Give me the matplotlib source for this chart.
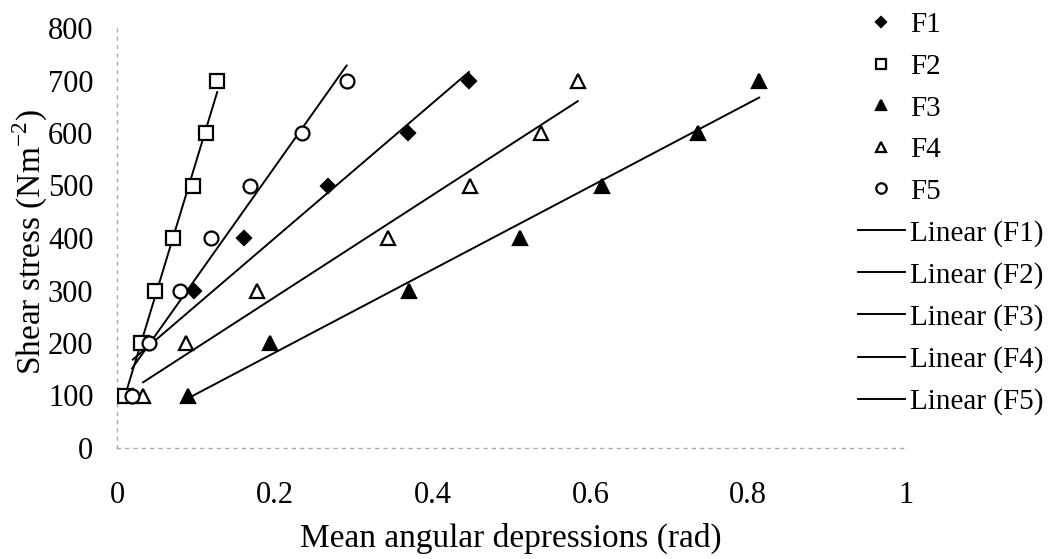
import numpy as np
import matplotlib
matplotlib.use("Agg")
import matplotlib.pyplot as plt
from matplotlib.lines import Line2D

plt.rcParams['font.family'] = ['Liberation Serif', 'DejaVu Serif']

stress = [100, 200, 300, 400, 500, 600, 700]
f1 = [0.020, 0.040, 0.097, 0.161, 0.268, 0.369, 0.446]
f2 = [0.010, 0.031, 0.048, 0.071, 0.096, 0.113, 0.127]
f3 = [0.090, 0.194, 0.370, 0.511, 0.615, 0.737, 0.814]
f4 = [0.033, 0.088, 0.177, 0.344, 0.447, 0.538, 0.584]
f5 = [0.019, 0.041, 0.080, 0.119, 0.169, 0.234, 0.291]

names = ['F1', 'F2', 'F3', 'F4', 'F5']
series = [f1, f2, f3, f4, f5]
markers = ['D', 's', '^', '^', 'o']
filled = [True, False, True, False, False]
msize = [7, 10, 10, 10, 10]

fig = plt.figure(figsize=(10.55, 5.59), dpi=100)
ax = fig.add_axes([117/1055, 1 - 448/559, 789/1055, 420/559])

point_handles = []
line_handles = []
for name, xs, m, f, s in zip(names, series, markers, filled, msize):
    xs = np.array(xs)
    ys = np.array(stress)
    fc = 'black' if f else 'white'
    ax.plot(xs, ys, linestyle='none', marker=m, markersize=s,
            markerfacecolor=fc, markeredgecolor='black', markeredgewidth=1.6, zorder=3)
    # linear trendline, drawn over the data range like the spreadsheet does
    k, b = np.polyfit(xs, ys, 1)
    xx = np.array([xs.min(), xs.max()])
    ax.plot(xx, k * xx + b, color='black', lw=1.4, zorder=2)
    point_handles.append(Line2D([], [], linestyle='none', marker=m, markersize=s * 0.75,
                                markerfacecolor=fc, markeredgecolor='black', markeredgewidth=1.6))
    line_handles.append(Line2D([], [], color='black', lw=1.4))

ax.set_xlim(0, 1)
ax.set_ylim(0, 800)
ax.set_xticks([0, 0.2, 0.4, 0.6, 0.8, 1])
ax.set_xticklabels(['0', '0.2', '0.4', '0.6', '0.8', '1'])
ax.set_yticks(range(0, 801, 100))
ax.tick_params(length=0, labelsize=22)
ax.tick_params(axis='x', pad=24)
ax.tick_params(axis='y', pad=17)
for side in ['top', 'right']:
    ax.spines[side].set_visible(False)
for side in ['left', 'bottom']:
    ax.spines[side].set_color('#aaaaaa')
    ax.spines[side].set_linestyle((0, (2, 4)))
    ax.spines[side].set_linewidth(1)

fig.text(511/1055, 1 - 538/559, 'Mean angular depressions (rad)', fontsize=24,
         ha='center', va='center')
fig.text(30/1055, 1 - 242/559, 'Shear stress (Nm$^{\\mathregular{-2}}$)', fontsize=24,
         ha='center', va='center', rotation=90)

labels = names + ['Linear (%s)' % n for n in names]
fig.legend(point_handles + line_handles, labels, loc='upper left',
           bbox_to_anchor=(839/1055, 1 + 7/559), frameon=False, fontsize=21,
           labelspacing=0.52, handlelength=1.6, handletextpad=0.2, borderpad=0.15)

fig.savefig('out.png', dpi=100)
